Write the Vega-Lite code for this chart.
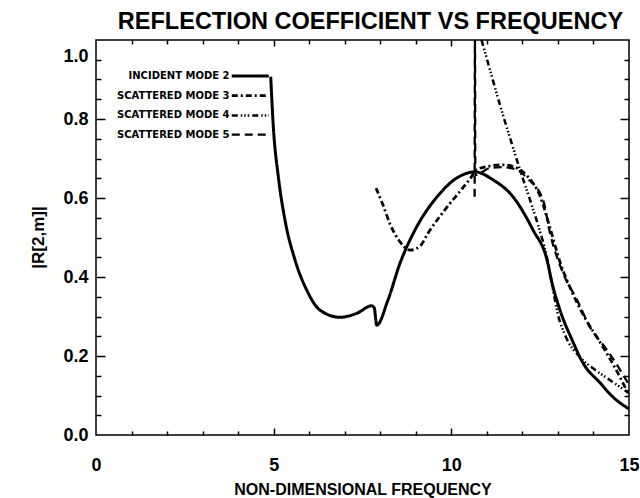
{
  "$schema": "https://vega.github.io/schema/vega-lite/v6.json",
  "width": 533,
  "height": 395,
  "autosize": "none",
  "padding": {"left": 96, "top": 40, "right": 11, "bottom": 63},
  "background": "white",
  "config": {"view": {"stroke": "black", "strokeWidth": 1.5}, "font": "Liberation Sans"},
  "data": {"values": [
    {"s": "INCIDENT MODE 2", "f": 4.917, "r": 0.907},
    {"s": "INCIDENT MODE 2", "f": 4.990, "r": 0.781},
    {"s": "INCIDENT MODE 2", "f": 5.131, "r": 0.654},
    {"s": "INCIDENT MODE 2", "f": 5.319, "r": 0.544},
    {"s": "INCIDENT MODE 2", "f": 5.601, "r": 0.443},
    {"s": "INCIDENT MODE 2", "f": 5.930, "r": 0.367},
    {"s": "INCIDENT MODE 2", "f": 6.305, "r": 0.316},
    {"s": "INCIDENT MODE 2", "f": 6.868, "r": 0.298},
    {"s": "INCIDENT MODE 2", "f": 7.337, "r": 0.308},
    {"s": "INCIDENT MODE 2", "f": 7.760, "r": 0.327},
    {"s": "INCIDENT MODE 2", "f": 7.830, "r": 0.322},
    {"s": "INCIDENT MODE 2", "f": 7.900, "r": 0.278},
    {"s": "INCIDENT MODE 2", "f": 8.218, "r": 0.342},
    {"s": "INCIDENT MODE 2", "f": 8.556, "r": 0.435},
    {"s": "INCIDENT MODE 2", "f": 8.978, "r": 0.519},
    {"s": "INCIDENT MODE 2", "f": 9.598, "r": 0.603},
    {"s": "INCIDENT MODE 2", "f": 10.160, "r": 0.651},
    {"s": "INCIDENT MODE 2", "f": 10.667, "r": 0.666},
    {"s": "INCIDENT MODE 2", "f": 11.174, "r": 0.646},
    {"s": "INCIDENT MODE 2", "f": 11.736, "r": 0.603},
    {"s": "INCIDENT MODE 2", "f": 12.299, "r": 0.519},
    {"s": "INCIDENT MODE 2", "f": 12.693, "r": 0.443},
    {"s": "INCIDENT MODE 2", "f": 12.834, "r": 0.385},
    {"s": "INCIDENT MODE 2", "f": 13.059, "r": 0.316},
    {"s": "INCIDENT MODE 2", "f": 13.397, "r": 0.241},
    {"s": "INCIDENT MODE 2", "f": 13.707, "r": 0.182},
    {"s": "INCIDENT MODE 2", "f": 14.185, "r": 0.132},
    {"s": "INCIDENT MODE 2", "f": 14.551, "r": 0.096},
    {"s": "INCIDENT MODE 2", "f": 15.0, "r": 0.066},
    {"s": "SCATTERED MODE 3", "f": 7.881, "r": 0.625},
    {"s": "SCATTERED MODE 3", "f": 8.078, "r": 0.582},
    {"s": "SCATTERED MODE 3", "f": 8.275, "r": 0.534},
    {"s": "SCATTERED MODE 3", "f": 8.556, "r": 0.489},
    {"s": "SCATTERED MODE 3", "f": 8.838, "r": 0.468},
    {"s": "SCATTERED MODE 3", "f": 9.119, "r": 0.478},
    {"s": "SCATTERED MODE 3", "f": 9.344, "r": 0.511},
    {"s": "SCATTERED MODE 3", "f": 9.879, "r": 0.577},
    {"s": "SCATTERED MODE 3", "f": 10.301, "r": 0.623},
    {"s": "SCATTERED MODE 3", "f": 10.583, "r": 0.656},
    {"s": "SCATTERED MODE 3", "f": 10.695, "r": 0.671},
    {"s": "SCATTERED MODE 3", "f": 11.089, "r": 0.681},
    {"s": "SCATTERED MODE 3", "f": 11.455, "r": 0.684},
    {"s": "SCATTERED MODE 3", "f": 11.793, "r": 0.678},
    {"s": "SCATTERED MODE 3", "f": 12.131, "r": 0.656},
    {"s": "SCATTERED MODE 3", "f": 12.496, "r": 0.605},
    {"s": "SCATTERED MODE 3", "f": 12.778, "r": 0.524},
    {"s": "SCATTERED MODE 3", "f": 13.059, "r": 0.438},
    {"s": "SCATTERED MODE 3", "f": 13.397, "r": 0.362},
    {"s": "SCATTERED MODE 3", "f": 13.763, "r": 0.296},
    {"s": "SCATTERED MODE 3", "f": 14.185, "r": 0.235},
    {"s": "SCATTERED MODE 3", "f": 14.607, "r": 0.170},
    {"s": "SCATTERED MODE 3", "f": 15.0, "r": 0.101},
    {"s": "SCATTERED MODE 4", "f": 10.85, "r": 1.0},
    {"s": "SCATTERED MODE 4", "f": 11.089, "r": 0.924},
    {"s": "SCATTERED MODE 4", "f": 11.371, "r": 0.835},
    {"s": "SCATTERED MODE 4", "f": 11.652, "r": 0.752},
    {"s": "SCATTERED MODE 4", "f": 11.934, "r": 0.671},
    {"s": "SCATTERED MODE 4", "f": 12.215, "r": 0.595},
    {"s": "SCATTERED MODE 4", "f": 12.440, "r": 0.532},
    {"s": "SCATTERED MODE 4", "f": 12.693, "r": 0.448},
    {"s": "SCATTERED MODE 4", "f": 12.862, "r": 0.367},
    {"s": "SCATTERED MODE 4", "f": 13.003, "r": 0.304},
    {"s": "SCATTERED MODE 4", "f": 13.200, "r": 0.253},
    {"s": "SCATTERED MODE 4", "f": 13.622, "r": 0.197},
    {"s": "SCATTERED MODE 4", "f": 14.044, "r": 0.165},
    {"s": "SCATTERED MODE 4", "f": 14.382, "r": 0.144},
    {"s": "SCATTERED MODE 4", "f": 15.0, "r": 0.106},
    {"s": "SCATTERED MODE 5", "f": 10.655, "r": 0.603},
    {"s": "SCATTERED MODE 5", "f": 10.665, "r": 1.0},
    {"s": "SCATTERED MODE 5", "f": 10.675, "r": 0.658},
    {"s": "SCATTERED MODE 5", "f": 11.089, "r": 0.676},
    {"s": "SCATTERED MODE 5", "f": 11.455, "r": 0.678},
    {"s": "SCATTERED MODE 5", "f": 11.793, "r": 0.673},
    {"s": "SCATTERED MODE 5", "f": 12.159, "r": 0.648},
    {"s": "SCATTERED MODE 5", "f": 12.581, "r": 0.595},
    {"s": "SCATTERED MODE 5", "f": 12.778, "r": 0.511},
    {"s": "SCATTERED MODE 5", "f": 13.144, "r": 0.410},
    {"s": "SCATTERED MODE 5", "f": 13.538, "r": 0.342},
    {"s": "SCATTERED MODE 5", "f": 13.904, "r": 0.273},
    {"s": "SCATTERED MODE 5", "f": 14.382, "r": 0.215},
    {"s": "SCATTERED MODE 5", "f": 14.748, "r": 0.165},
    {"s": "SCATTERED MODE 5", "f": 15.0, "r": 0.127}
  ]},
  "layer": [
    {
      "mark": {"type": "line", "clip": true, "color": "black", "interpolate": "monotone"},
      "encoding": {
        "x": {"field": "f", "type": "quantitative", "scale": {"domain": [0, 15], "nice": false, "zero": false},
          "axis": {"orient": "bottom", "values": [0, 5, 10, 15], "ticks": false, "tickSize": 0, "domain": false, "grid": false,
            "labelFontSize": 18, "labelFont": "Liberation Sans", "labelFontWeight": "bold", "labelColor": "black", "labelPadding": 21,
            "labelFlush": false, "labelOverlap": false,
            "title": "NON-DIMENSIONAL FREQUENCY", "titleFont": "Liberation Sans", "titleFontSize": 16, "titleFontWeight": "bold", "titleColor": "black",
            "titleY": 59, "titleBaseline": "alphabetic"}},
        "y": {"field": "r", "type": "quantitative", "scale": {"domain": [0, 1], "nice": false, "zero": false},
          "axis": {"orient": "left", "values": [0, 0.2, 0.4, 0.6, 0.8, 1], "format": ".1f", "ticks": false, "tickSize": 0, "domain": false, "grid": false,
            "labelFontSize": 18, "labelFont": "Liberation Sans", "labelFontWeight": "bold", "labelColor": "black", "labelPadding": 8,
            "labelFlush": false, "labelOverlap": false,
            "labelOffset": {"condition": {"test": "datum.value == 1", "value": 16}, "value": 0},
            "title": "|R[2,m]|", "titleFont": "Liberation Sans", "titleFontSize": 17, "titleFontWeight": "bold", "titleColor": "black",
            "titleAngle": -90, "titleX": -58, "titleY": 197, "titleAlign": "center", "titleBaseline": "middle"}},
        "strokeDash": {"field": "s", "type": "nominal",
          "scale": {"domain": ["INCIDENT MODE 2", "SCATTERED MODE 3", "SCATTERED MODE 4", "SCATTERED MODE 5"],
            "range": [[1, 0], [6, 3, 2, 3], [6, 3, 1.5, 2, 1.5, 2, 1.5, 3], [8, 5]]},
          "legend": {"title": null, "orient": "none", "legendX": 143.25, "legendY": 25, "symbolType": "M-2,0H2", "symbolSize": 342,
            "symbolStrokeWidth": 2, "symbolStrokeColor": "black", "symbolFillColor": "transparent", "labelFont": "DejaVu Sans", "labelFontSize": 10, "labelFontWeight": "bold",
            "labelColor": "black", "labelAlign": "right", "labelOffset": -31.75, "rowPadding": 2.7, "padding": 0, "labelLimit": 300}},
        "strokeWidth": {"field": "s", "type": "nominal",
          "scale": {"domain": ["INCIDENT MODE 2", "SCATTERED MODE 3", "SCATTERED MODE 4", "SCATTERED MODE 5"], "range": [3, 2.3, 2.3, 2.6]},
          "legend": null}
      }
    },
    {
      "mark": {"type": "point", "opacity": 0, "clip": true},
      "encoding": {
        "x": {"field": "f", "type": "quantitative", "scale": {"domain": [0, 15], "nice": false, "zero": false},
          "axis": {"orient": "bottom", "values": [5, 10], "tickSize": -7, "tickWidth": 1.5, "tickColor": "black", "labels": false, "domain": false, "grid": false, "title": null}},
        "y": {"field": "r", "type": "quantitative", "scale": {"domain": [0, 1], "nice": false, "zero": false},
          "axis": {"orient": "left", "values": [0.2, 0.4, 0.6, 0.8], "tickSize": -9, "tickWidth": 1.5, "tickColor": "black", "labels": false, "domain": false, "grid": false, "title": null}}
      }
    },
    {
      "mark": {"type": "point", "opacity": 0, "clip": true},
      "encoding": {
        "x": {"field": "f", "type": "quantitative", "scale": {"domain": [0, 15], "nice": false, "zero": false},
          "axis": {"orient": "bottom", "values": [1, 2, 3, 4, 6, 7, 8, 9, 11, 12, 13, 14], "tickSize": -4, "tickWidth": 1.5, "tickColor": "black", "labels": false, "domain": false, "grid": false, "title": null}},
        "y": {"field": "r", "type": "quantitative", "scale": {"domain": [0, 1], "nice": false, "zero": false},
          "axis": {"orient": "left", "values": [0.05, 0.1, 0.15, 0.25, 0.3, 0.35, 0.45, 0.5, 0.55, 0.65, 0.7, 0.75, 0.85, 0.9, 0.95], "tickSize": -5, "tickWidth": 1.5, "tickColor": "black", "labels": false, "domain": false, "grid": false, "title": null}}
      }
    },
    {
      "mark": {"type": "point", "opacity": 0, "clip": true},
      "encoding": {
        "x": {"field": "f", "type": "quantitative", "scale": {"domain": [0, 15], "nice": false, "zero": false},
          "axis": {"orient": "top", "values": [1, 2, 3, 4, 6, 7, 8, 9, 11, 12, 13, 14], "tickSize": -4, "tickWidth": 1.5, "tickColor": "black", "labels": false, "domain": false, "grid": false,
            "title": "REFLECTION COEFFICIENT VS FREQUENCY", "titleFont": "Liberation Sans", "titleFontSize": 23.5, "titleFontWeight": "bold", "titleColor": "black",
            "titleX": 274, "titleY": -12, "titleAlign": "center", "titleBaseline": "alphabetic", "titleLimit": 0}},
        "y": {"field": "r", "type": "quantitative", "scale": {"domain": [0, 1], "nice": false, "zero": false},
          "axis": {"orient": "right", "values": [0.2, 0.4, 0.6, 0.8], "tickSize": -9, "tickWidth": 1.5, "tickColor": "black", "labels": false, "domain": false, "grid": false, "title": null}}
      }
    },
    {
      "mark": {"type": "point", "opacity": 0, "clip": true},
      "encoding": {
        "x": {"field": "f", "type": "quantitative", "scale": {"domain": [0, 15], "nice": false, "zero": false},
          "axis": {"orient": "top", "values": [5, 10], "tickSize": -6, "tickWidth": 1.5, "tickColor": "black", "labels": false, "domain": false, "grid": false, "title": null}},
        "y": {"field": "r", "type": "quantitative", "scale": {"domain": [0, 1], "nice": false, "zero": false},
          "axis": {"orient": "right", "values": [0.05, 0.1, 0.15, 0.25, 0.3, 0.35, 0.45, 0.5, 0.55, 0.65, 0.7, 0.75, 0.85, 0.9, 0.95], "tickSize": -5, "tickWidth": 1.5, "tickColor": "black", "labels": false, "domain": false, "grid": false, "title": null}}
      }
    }
  ],
  "resolve": {"axis": {"x": "independent", "y": "independent"}}
}
